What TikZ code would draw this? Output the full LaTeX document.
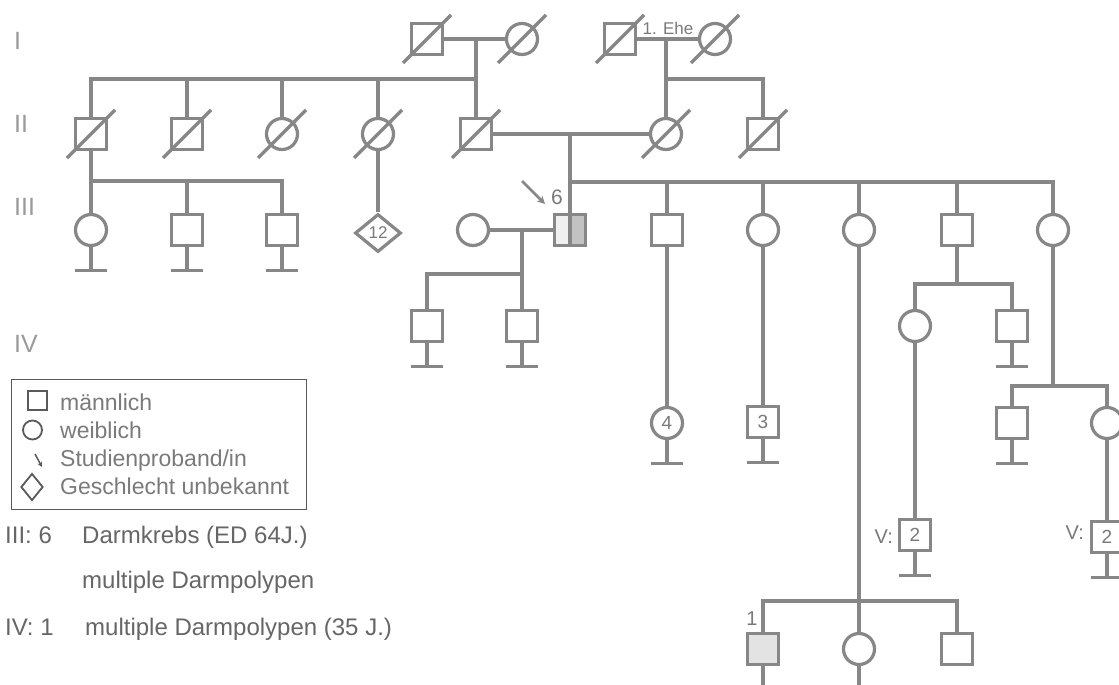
\documentclass[tikz,border=0pt]{standalone}
\usepackage{fontspec}
\setmainfont{Liberation Sans}
\usetikzlibrary{shapes.geometric,arrows.meta}
\definecolor{lc}{HTML}{878787}
\definecolor{tc}{HTML}{7A7A7A}
\definecolor{capc}{HTML}{666666}
\definecolor{lg}{HTML}{5A5A5A}
\definecolor{gl}{HTML}{9A9A9A}
\tikzset{
 ln/.style={draw=lc, line width=3.2pt, line join=miter},
 male/.style={rectangle, draw=lc, line width=3.2pt, minimum size=31pt, inner sep=0pt, fill=white},
 female/.style={circle, draw=lc, line width=3.2pt, minimum size=31pt, inner sep=0pt, fill=white},
 unk/.style={diamond, draw=lc, line width=3.2pt, minimum width=46pt, minimum height=38pt, inner sep=0pt, fill=white},
 num/.style={text=tc, font=\fontsize{19}{19}\selectfont},
 gen/.style={text=gl, font=\fontsize{25}{25}\selectfont, anchor=base west, inner sep=0pt},
 captxt/.style={text=capc, font=\fontsize{24}{24}\selectfont, anchor=base west, inner sep=0pt},
 legtxt/.style={text=tc, font=\fontsize{23}{23}\selectfont, anchor=base west, inner sep=0pt},
 small/.style={text=tc, inner sep=0pt},
}
\newcommand{\decslash}[1]{\draw[ln] ([shift={(-24pt,-24pt)}]#1.center) -- ([shift={(24pt,24pt)}]#1.center);}
\newcommand{\termin}[1]{\draw[ln] (#1.south) -- ++(0,23) coordinate (#1t);
  \draw[ln] ([xshift=-16pt]#1t) -- ([xshift=16pt]#1t);}
\begin{document}
\begin{tikzpicture}[x=1pt,y=-1pt]
\useasboundingbox (0,0) rectangle (1119,685);
\clip (0,0) rectangle (1119,685);
\fill[white] (0,0) rectangle (1119,685);

% generation labels
\node[gen] (gI) at (14,50) {I};
\node[gen] (gII) at (14,132) {II};
\node[gen] (gIII) at (14,215) {III};
\node[gen] (gIV) at (14,352) {IV};

% Generation I
\node[male] (I1) at (427,39) {};
\node[female] (I2) at (522,39) {};
\node[male] (I3) at (620,39) {};
\node[female] (I4) at (715,39) {};
\node[small, font=\fontsize{17}{17}\selectfont] (ehe) at (668,28) {1. Ehe};

% Generation II
\node[male] (II1) at (91,134) {};
\node[male] (II2) at (187,134) {};
\node[female] (II3) at (282,134) {};
\node[female] (II4) at (378,134) {};
\node[male] (II5) at (476,134) {};
\node[female] (II6) at (666,134) {};
\node[male] (II7) at (763,134) {};

% Generation III
\node[female] (III1) at (91,230) {};
\node[male] (III2) at (187,230) {};
\node[male] (III3) at (282,230) {};
\node[unk] (III4) at (378,233) {};
\node[num, font=\fontsize{17}{17}\selectfont] (III4n) at (378,233) {12};
\node[female] (III5) at (473,230) {};
\node[male, fill=none] (III6) at (570,230) {};
\node[male] (III7) at (667,230) {};
\node[female] (III8) at (763,230) {};
\node[female] (III9) at (859,230) {};
\node[male] (III10) at (957,230) {};
\node[female] (III11) at (1053,230) {};
\fill[gray!12] ([shift={(1.6pt,-1.6pt)}]III6.north west) rectangle ([yshift=1.6pt]III6.south);
\fill[gray!48] ([yshift=-1.6pt]III6.north) rectangle ([shift={(-1.6pt,1.6pt)}]III6.south east);
\draw[draw=lc, line width=3.2pt] (III6.north) -- (III6.south);
\node[male, fill=none] (III6b) at (570,230) {};

% Generation IV
\node[male] (IV1) at (427,326) {};
\node[male] (IV2) at (522,326) {};
\node[female] (IV3) at (667,423) {};
\node[num] (IV3n) at (667,423) {4};
\node[male] (IV4) at (763,422) {};
\node[num] (IV4n) at (763,422) {3};
\node[male, fill=gray!22] (IV5) at (763,649) {};
\node[female] (IV6) at (859,649) {};
\node[male] (IV7) at (957,649) {};
\node[female] (IV8) at (915,326) {};
\node[male] (IV9) at (1012,326) {};
\node[male] (IV10) at (1012,423) {};
\node[female] (IV11) at (1107,423) {};
\node[small, font=\fontsize{20}{20}\selectfont] (IV5l) at (752,619) {1};

% Generation V
\node[male] (V1) at (915,535) {};
\node[num] (V1n) at (915,535) {2};
\node[small, font=\fontsize{20}{20}\selectfont, anchor=east] (V1l) at (893,537) {V:};
\node[male] (V2) at (1107,537) {};
\node[num] (V2n) at (1107,537) {2};
\node[small, font=\fontsize{20}{20}\selectfont, anchor=east] (V2l) at (1084,533) {V:};

% deceased slashes
\foreach \n in {I1,I2,I3,I4,II1,II2,II3,II4,II5,II6,II7}{\decslash{\n}}

% junction coordinates
\coordinate (m1) at (476,39);
\coordinate (s1) at (476,79);
\coordinate (m2) at (666,39);
\coordinate (s2) at (666,79);
\coordinate (m3) at (570,134);
\coordinate (s3) at (570,182);
\coordinate (s4) at (91,181);
\coordinate (m4) at (522,230);
\coordinate (s5) at (522,274);
\coordinate (s6) at (859,601);
\coordinate (s7) at (957,284);
\coordinate (s8) at (1053,386);
\coordinate (IV5d) at (763,700);
\coordinate (IV6d) at (859,700);

% Gen I connections
\draw[ln] (I1) -- (I2);
\draw[ln] (I3) -- (I4);
\draw[ln] (m1) -- (II5);
\draw[ln] (II1) -- (II1 |- s1) -- (s1);
\draw[ln] (II2 |- s1) -- (II2);
\draw[ln] (II3 |- s1) -- (II3);
\draw[ln] (II4 |- s1) -- (II4);
\draw[ln] (m2) -- (II6);
\draw[ln] (s2) -- (II7 |- s2) -- (II7);

% Gen II connections
\draw[ln] (II5) -- (II6);
\draw[ln] (m3) -- (III6);
\draw[ln] (s3) -- (III11 |- s3) -- (III11);
\draw[ln] (III7 |- s3) -- (III7);
\draw[ln] (III8 |- s3) -- (III8);
\draw[ln] (III9 |- s3) -- (III9);
\draw[ln] (III10 |- s3) -- (III10);
\draw[ln] (II1) -- (III1);
\draw[ln] (s4) -- (III3 |- s4) -- (III3);
\draw[ln] (III2 |- s4) -- (III2);
\draw[ln] (II4) -- (III4);

% Gen III connections
\draw[ln] (III5) -- (III6);
\draw[ln] (m4) -- (IV2);
\draw[ln] (s5) -- (IV1 |- s5) -- (IV1);
\draw[ln] (III7) -- (IV3);
\draw[ln] (III8) -- (IV4);
\draw[ln] (III9) -- (IV6);
\draw[ln] (IV5) -- (IV5 |- s6) -- (IV7 |- s6) -- (IV7);
\draw[ln] (IV5) -- (IV5d);
\draw[ln] (IV6) -- (IV6d);
\draw[ln] (III10) -- (s7);
\draw[ln] (IV8) -- (IV8 |- s7) -- (IV9 |- s7) -- (IV9);
\draw[ln] (IV8) -- (V1);
\draw[ln] (III11) -- (s8);
\draw[ln] (IV10) -- (IV10 |- s8) -- (IV11 |- s8) -- (IV11);
\draw[ln] (IV11) -- (V2);

% terminators
\foreach \n in {III1,III2,III3,IV1,IV2,IV3,IV4,IV9,IV10,V1,V2}{\termin{\n}}

% proband arrow
\coordinate (arA) at (522,181);
\coordinate (arB) at (545,204);
\draw[draw=lc, line width=2.6pt, -{Stealth[length=8pt,width=8pt]}] (arA) -- (arB);
\node[small, font=\fontsize{21}{21}\selectfont] (six) at (557,197) {6};

% legend
\node[draw=lg, line width=1.3pt, minimum width=295pt, minimum height=130pt, inner sep=0pt, anchor=north west] (leg) at (11,379) {};
\node[rectangle, draw=lg, line width=2pt, minimum size=19pt, inner sep=0pt] (lgm) at (37.5,400.5) {};
\node[circle, draw=lg, line width=1.8pt, minimum size=19pt, inner sep=0pt] (lgf) at (32.5,430) {};
\coordinate (la1) at (35,454);
\coordinate (la2) at (42,467);
\draw[draw=lg, line width=1.5pt, -{Stealth[length=5pt,width=5pt]}] (la1) -- (la2);
\node[diamond, draw=lg, line width=1.8pt, minimum width=22pt, minimum height=27pt, inner sep=0pt] (lgu) at (32,487) {};
\node[legtxt] (lt1) at (60,410) {männlich};
\node[legtxt] (lt2) at (60,438) {weiblich};
\node[legtxt] (lt3) at (60,466) {Studienproband/in};
\node[legtxt] (lt4) at (60,494) {Geschlecht unbekannt};

% captions
\node[captxt] (c1a) at (5,543) {III: 6};
\node[captxt] (c1b) at (82,543) {Darmkrebs (ED 64J.)};
\node[captxt] (c2) at (82,588) {multiple Darmpolypen};
\node[captxt] (c3a) at (5,635) {IV: 1};
\node[captxt] (c3b) at (85,635) {multiple Darmpolypen (35 J.)};
\end{tikzpicture}
\end{document}
